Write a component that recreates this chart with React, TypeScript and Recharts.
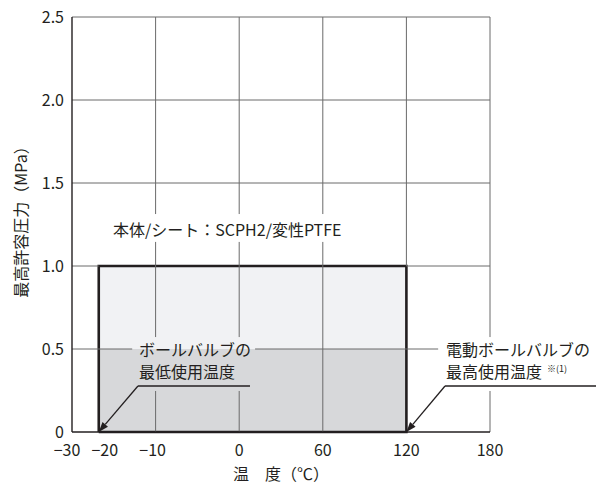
import React from 'react';
import {
  ComposedChart,
  XAxis,
  YAxis,
  Area,
  Line,
  ReferenceLine,
  ReferenceDot,
} from 'recharts';

// Temperature axis: labelled ticks and where they sit on the (non-linear) axis
const tempTicks = [-30, -20, -10, 0, 60, 120, 180];
const tickPositions = [0, 0.32, 1, 2, 3, 4, 5];
const gridPositions = [1, 2, 3, 4, 5];

// Pressure axis (MPa)
const pressureTicks = [0, 0.5, 1.0, 1.5, 2.0, 2.5];

// Service envelope: body/seat SCPH2 / modified PTFE
const envelopeTemps = [-20, 120];
const ratedPressure = [1.0, 1.0];
const lowerBand = [0.5, 0.5];
const outlineTemps = [-20, -20, 120, 120, -20];
const outlinePressures = [0, 1.0, 1.0, 0, 0];

const FONT = '"Noto Sans CJK JP", "Noto Sans", sans-serif';
const INK = '#231f20';
const GRID = '#6a6a6a';
const LIGHT = '#f1f2f4';
const DARK = '#d7d8da';

const X_MAX = 5;
const Y_MAX = 2.5;

// small horizontal nudges so the crowded negative labels don't collide
const labelNudge: Record<number, number> = { [-30]: -5, [-20]: 6, [-10]: -3 };

// piecewise-linear temperature -> axis position
function toPos(t: number): number {
  for (let i = 0; i < tempTicks.length - 1; i++) {
    const a = tempTicks[i];
    const b = tempTicks[i + 1];
    if (t >= a && t <= b) {
      return tickPositions[i] + ((t - a) / (b - a)) * (tickPositions[i + 1] - tickPositions[i]);
    }
  }
  return t < tempTicks[0] ? tickPositions[0] : tickPositions[tickPositions.length - 1];
}

const bandData = envelopeTemps.map((t, i) => ({
  x: toPos(t),
  upper: ratedPressure[i],
  lower: lowerBand[i],
}));

const outlineData = outlineTemps.map((t, i) => ({ x: toPos(t), p: outlinePressures[i] }));

// grid is left open behind the annotation text and under the envelope outline
type Box = { x1: number; x2: number; y1: number; y2: number };
const textBoxes: Box[] = [
  { x1: 0.43, x2: 3.66, y1: 1.145, y2: 1.313 },
  { x1: 0.72, x2: 2.19, y1: 0.247, y2: 0.572 },
  { x1: 4.38, x2: 6.4, y1: 0.247, y2: 0.572 },
];

function subtract(a: number, b: number, gaps: number[][]): number[][] {
  const sorted = gaps.slice().sort((g, h) => g[0] - h[0]);
  const out: number[][] = [];
  let cur = a;
  for (const [g1, g2] of sorted) {
    if (g2 <= cur || g1 >= b) continue;
    if (g1 > cur) out.push([cur, g1]);
    cur = Math.max(cur, g2);
  }
  if (cur < b) out.push([cur, b]);
  return out;
}

const envLeft = toPos(envelopeTemps[0]);
const envRight = toPos(envelopeTemps[1]);
const envTop = ratedPressure[0];

const gridSegments: { x1: number; y1: number; x2: number; y2: number }[] = [];
gridPositions.forEach((p) => {
  const gaps = textBoxes.filter((b) => p >= b.x1 && p <= b.x2).map((b) => [b.y1, b.y2]);
  if (Math.abs(p - envRight) < 1e-9 || Math.abs(p - envLeft) < 1e-9) gaps.push([0, envTop]);
  subtract(0, Y_MAX, gaps).forEach(([s, e]) => gridSegments.push({ x1: p, y1: s, x2: p, y2: e }));
});
pressureTicks
  .filter((v) => v > 0)
  .forEach((v) => {
    const gaps = textBoxes.filter((b) => v >= b.y1 && v <= b.y2).map((b) => [b.x1, b.x2]);
    if (Math.abs(v - envTop) < 1e-9) gaps.push([envLeft, envRight]);
    subtract(0, X_MAX, gaps).forEach(([s, e]) => gridSegments.push({ x1: s, y1: v, x2: e, y2: v }));
  });

const tempAt = (v: number) => {
  const i = tickPositions.indexOf(v);
  return i >= 0 ? tempTicks[i] : v;
};

const formatTemp = (t: number) => (t < 0 ? `\u2212${Math.abs(t)}` : String(t));

const formatPressure = (v: number) => (v === 0 ? '0' : v.toFixed(1));

const TempTick = (props: any) => {
  const { x, y, payload } = props;
  const t = tempAt(payload.value);
  return (
    <text
      x={x + (labelNudge[t] || 0)}
      y={y + 9}
      textAnchor="middle"
      dominantBaseline="central"
      fontFamily={FONT}
      fontSize={16}
      fill={INK}
    >
      {formatTemp(t)}
    </text>
  );
};

// the plot diagonal (0,0)-(X_MAX,Y_MAX) gives the pixel frame for all grid segments
const GridLayer = (props: any) => {
  const { x1, y1, x2, y2 } = props;
  const px = (v: number) => x1 + (v / X_MAX) * (x2 - x1);
  const py = (v: number) => y1 + (v / Y_MAX) * (y2 - y1);
  return (
    <g>
      {gridSegments.map((s, i) => (
        <line
          key={i}
          x1={px(s.x1)}
          y1={py(s.y1)}
          x2={px(s.x2)}
          y2={py(s.y2)}
          stroke={GRID}
          strokeWidth={1}
        />
      ))}
    </g>
  );
};

// callout: text lines sitting on an underline
const makeCallout = (lines: string[], note?: string) => (props: any) => {
  const { x1, y1, x2, y2 } = props;
  return (
    <g>
      <line x1={x1} y1={y1} x2={x2} y2={y2} stroke={INK} strokeWidth={1.3} />
      <text x={x1 + 1} y={y1 - 30} fontFamily={FONT} fontSize={16} fill={INK}>
        {lines[0]}
      </text>
      <text x={x1 + 1} y={y1 - 8} fontFamily={FONT} fontSize={16} fill={INK}>
        {lines[1]}
        {note ? (
          <tspan dx={5} dy={-6} fontSize={9}>
            {note}
          </tspan>
        ) : null}
      </text>
    </g>
  );
};

// arrow from the callout down to the envelope corner
const Arrow = (props: any) => {
  const { x1, y1, x2, y2 } = props;
  const dx = x2 - x1;
  const dy = y2 - y1;
  const len = Math.sqrt(dx * dx + dy * dy);
  const ux = dx / len;
  const uy = dy / len;
  const hl = 10;
  const hw = 3.6;
  const bx = x2 - ux * hl;
  const by = y2 - uy * hl;
  return (
    <g>
      <line x1={x1} y1={y1} x2={bx} y2={by} stroke={INK} strokeWidth={1.3} />
      <polygon
        points={`${x2},${y2} ${bx - uy * hw},${by + ux * hw} ${bx + uy * hw},${by - ux * hw}`}
        fill={INK}
      />
    </g>
  );
};

const TitleText = (props: any) => (
  <text
    x={props.cx}
    y={props.cy}
    fontFamily={FONT}
    fontSize={16}
    fill={INK}
    dominantBaseline="central"
  >
    本体/シート：SCPH2/変性PTFE
  </text>
);

const YTitle = () => (
  <text
    x={20}
    y={218}
    transform="rotate(-90, 20, 218)"
    textAnchor="middle"
    dominantBaseline="central"
    fontFamily={FONT}
    fontSize={16}
    fill={INK}
  >
    最高許容圧力（MPa）
  </text>
);

const XTitle = () => (
  <text
    x={281}
    y={473}
    textAnchor="middle"
    dominantBaseline="central"
    fontFamily={FONT}
    fontSize={16}
    fill={INK}
  >
    温　度（℃）
  </text>
);

export default function App() {
  const tick = { fontFamily: FONT, fontSize: 16, fill: INK };
  return (
    <div style={{ position: 'absolute', left: 0, top: 0 }}>
      <ComposedChart width={596} height={492} margin={{ top: 17, right: 106, bottom: 0, left: 0 }}>
        <XAxis
          dataKey="x"
          type="number"
          domain={[0, X_MAX]}
          ticks={tickPositions}
          tick={<TempTick />}
          tickLine={false}
          axisLine={{ stroke: INK, strokeWidth: 1.4 }}
          height={60}
          interval={0}
          allowDataOverflow
        />
        <YAxis
          type="number"
          domain={[0, Y_MAX]}
          ticks={pressureTicks}
          tickFormatter={formatPressure}
          tick={tick}
          tickLine={false}
          axisLine={{ stroke: INK, strokeWidth: 1.4 }}
          width={72}
          interval={0}
        />
        <Area
          data={bandData}
          dataKey="upper"
          type="linear"
          stroke="none"
          fill={LIGHT}
          fillOpacity={1}
          isAnimationActive={false}
        />
        <Area
          data={bandData}
          dataKey="lower"
          type="linear"
          stroke="none"
          fill={DARK}
          fillOpacity={1}
          isAnimationActive={false}
        />
        <Line
          data={outlineData}
          dataKey="p"
          type="linear"
          stroke={INK}
          strokeWidth={2.6}
          fill="none"
          dot={false}
          isAnimationActive={false}
        />
        <ReferenceDot x={0.49} y={1.22} r={0} shape={TitleText} ifOverflow="visible" />
        <ReferenceLine
          segment={[
            { x: 0.789, y: 0.277 },
            { x: 2.129, y: 0.277 },
          ]}
          shape={makeCallout(['ボールバルブの', '最低使用温度'])}
          ifOverflow="visible"
        />
        <ReferenceLine
          segment={[
            { x: 0.789, y: 0.277 },
            { x: toPos(-20), y: 0 },
          ]}
          shape={Arrow}
          ifOverflow="visible"
        />
        <ReferenceLine
          segment={[
            { x: 4.462, y: 0.277 },
            { x: 6.3, y: 0.277 },
          ]}
          shape={makeCallout(['電動ボールバルブの', '最高使用温度'], '※(1)')}
          ifOverflow="visible"
        />
        <ReferenceLine
          segment={[
            { x: 4.462, y: 0.277 },
            { x: toPos(120), y: 0 },
          ]}
          shape={Arrow}
          ifOverflow="visible"
        />
        <ReferenceLine
          segment={[
            { x: 0, y: 0 },
            { x: X_MAX, y: Y_MAX },
          ]}
          shape={GridLayer}
          ifOverflow="visible"
        />
        <YTitle />
        <XTitle />
      </ComposedChart>
    </div>
  );
}
